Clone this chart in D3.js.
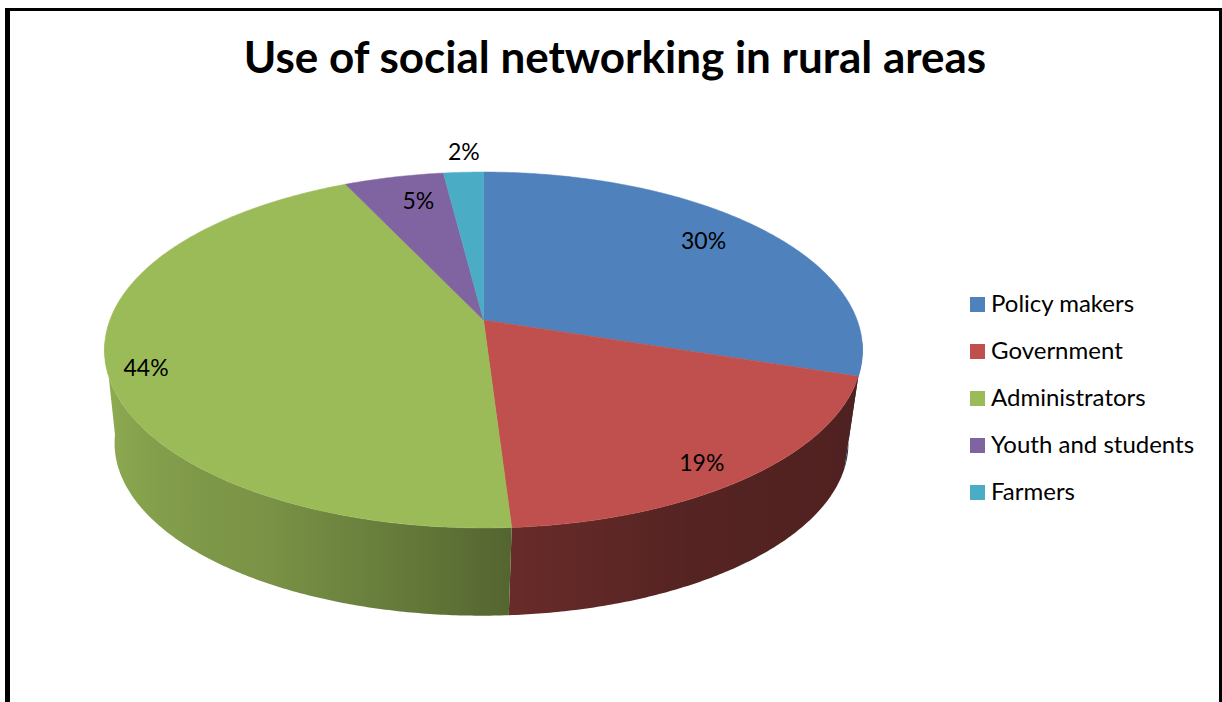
<!DOCTYPE html>
<html>
<head>
<meta charset="utf-8">
<title>Use of social networking in rural areas</title>
<script src="https://cdn.jsdelivr.net/npm/d3@7"></script>
<style>
html, body { margin: 0; padding: 0; background: #fff; overflow: hidden; }
text { font-family: Lato, "Open Sans", sans-serif; fill: #000; }
</style>
</head>
<body>
<svg id="chart" width="1222" height="702"></svg>
<script>
const chartTitle = "Use of social networking in rural areas";
const categories = ["Policy makers", "Government", "Administrators", "Youth and students", "Farmers"];
const shares = [30, 19, 44, 5, 2];
const palette = ["#4F81BD", "#C0504D", "#9BBB59", "#8064A2", "#4BACC6"];

// Where each percentage sits along its slice's radius, plus a small nudge.
const labelReach = [0.8, 0.87, 0.9, 0.78, 1.15];
const labelNudge = [[-4, -5], [-7, 8], [1, 7], [7, -5], [3, -3]];

const svg = d3.select("#chart");
const defs = svg.append("defs");
const TAU = Math.PI * 2;
const WIDTH = 1222;

// The disc is seen in perspective: a flat circle mapped through a projective
// divide, so the centre of the pie sits above the middle of the ellipse.
const tilt = 0.1685;
const topDisc = { cx: 483.5, cy: 320, rx: 373.6, ry: 172.9 };
const baseDisc = { cx: 481.5, cy: 414, rx: 361.7, ry: 167.7 };

function project(disc, theta, r = 1) {
  const w = 1 + tilt * r * Math.cos(theta);
  return [
    disc.cx + disc.rx * r * Math.sin(theta) / w,
    disc.cy - disc.ry * r * Math.cos(theta) / w
  ];
}

const slices = d3.pie().sort(null).startAngle(0).endAngle(TAU)(shares);
const outline = d3.line();

// The rim darkens from the left of the pie round towards the right.
const rimShade = d3.scaleLinear()
  .domain([90, 150, 176, 193, 210, 245, 270])
  .range([0.4, 0.44, 0.54, 0.67, 0.78, 0.88, 0.93])
  .clamp(true);

function rimColor(color, theta) {
  const k = rimShade(theta * 360 / TAU);
  const c = d3.rgb(color);
  return d3.rgb(c.r * k, c.g * k, c.b * k).formatHex();
}

// Only the front of the rim is ever seen.
const frontStart = 97 * TAU / 360;
const frontEnd = 263 * TAU / 360;
const rim = svg.append("g").attr("class", "rim");

slices.forEach((s, i) => {
  const a0 = Math.max(s.startAngle, frontStart);
  const a1 = Math.min(s.endAngle, frontEnd);
  if (a1 <= a0) return;

  const n = Math.ceil((a1 - a0) / (TAU / 720));
  const angles = d3.range(n + 1).map(k => a0 + (a1 - a0) * k / n);

  // A horizontal gradient carries the shading along the slice's rim.
  const gradient = defs.append("linearGradient")
    .attr("id", `rim-${i}`)
    .attr("gradientUnits", "userSpaceOnUse")
    .attr("x1", 0).attr("x2", WIDTH)
    .attr("y1", 0).attr("y2", 0);
  const stops = angles
    .filter((a, k) => k % 4 === 0 || k === n)
    .map(a => ({ x: project(baseDisc, a)[0], color: rimColor(palette[i], a) }))
    .sort((p, q) => d3.ascending(p.x, q.x));
  gradient.selectAll("stop")
    .data(stops)
    .join("stop")
    .attr("offset", d => d.x / WIDTH)
    .attr("stop-color", d => d.color);

  const upper = angles.map(a => project(topDisc, a));
  const lower = angles.map(a => project(baseDisc, a)).reverse();
  rim.append("path")
    .attr("d", outline([...upper, ...lower]) + "Z")
    .attr("fill", `url(#rim-${i})`);
});

// Upper face of each slice.
svg.append("g").attr("class", "faces")
  .selectAll("path")
  .data(slices)
  .join("path")
  .attr("d", s => {
    const n = Math.max(4, Math.ceil((s.endAngle - s.startAngle) / (TAU / 720)));
    const arc = d3.range(n + 1).map(k =>
      project(topDisc, s.startAngle + (s.endAngle - s.startAngle) * k / n));
    return outline([[topDisc.cx, topDisc.cy], ...arc]) + "Z";
  })
  .attr("fill", (s, i) => palette[i])
  .attr("stroke", (s, i) => palette[i])
  .attr("stroke-width", 0.5);

// Percentage labels.
svg.append("g").attr("class", "labels")
  .selectAll("text")
  .data(slices)
  .join("text")
  .attr("x", (s, i) => project(topDisc, (s.startAngle + s.endAngle) / 2, labelReach[i])[0] + labelNudge[i][0])
  .attr("y", (s, i) => project(topDisc, (s.startAngle + s.endAngle) / 2, labelReach[i])[1] + labelNudge[i][1])
  .attr("text-anchor", "middle")
  .attr("dominant-baseline", "central")
  .attr("font-size", 23)
  .text(s => `${s.data}%`);

// Title.
svg.append("text")
  .attr("x", 615)
  .attr("y", 73)
  .attr("text-anchor", "middle")
  .attr("font-size", 44)
  .attr("font-weight", 700)
  .text(chartTitle);

// Legend.
const legendRow = d3.scalePoint().domain(categories).range([304.5, 492.5]);
const legend = svg.append("g").attr("class", "legend")
  .selectAll("g")
  .data(categories)
  .join("g")
  .attr("transform", d => `translate(970,${legendRow(d)})`);
legend.append("rect")
  .attr("x", 0).attr("y", -7.5)
  .attr("width", 15).attr("height", 15)
  .attr("fill", (d, i) => palette[i]);
legend.append("text")
  .attr("x", 21)
  .attr("y", -2)
  .attr("dominant-baseline", "central")
  .attr("font-size", 24)
  .text(d => d);

// Frame: heavier on the left, open along the bottom.
const frame = svg.append("g").attr("stroke", "#000").attr("fill", "none");
frame.append("line").attr("x1", 7.5).attr("x2", 7.5).attr("y1", 8).attr("y2", 702).attr("stroke-width", 5);
frame.append("line").attr("x1", 5).attr("x2", 1222).attr("y1", 9.5).attr("y2", 9.5).attr("stroke-width", 3);
frame.append("line").attr("x1", 1220.5).attr("x2", 1220.5).attr("y1", 8).attr("y2", 702).attr("stroke-width", 3);
</script>
</body>
</html>
